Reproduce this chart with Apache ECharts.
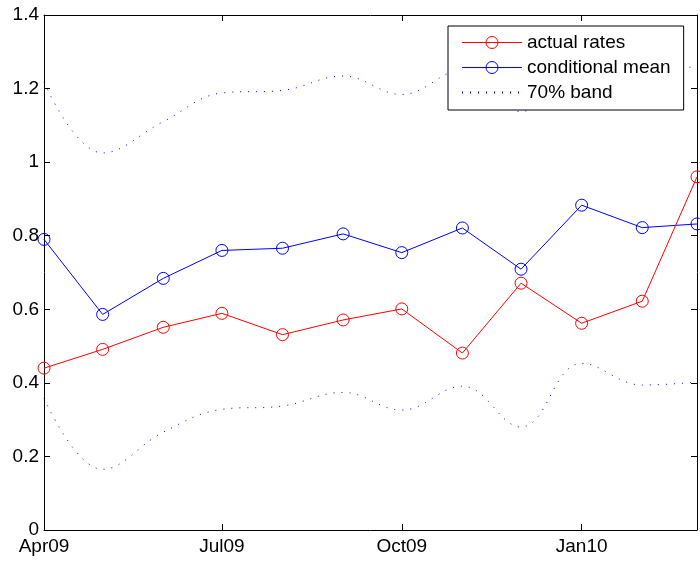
<!DOCTYPE html>
<html>
<head>
<meta charset="utf-8">
<script src="https://cdn.jsdelivr.net/npm/echarts@6/dist/echarts.min.js"></script>
<style>html,body{margin:0;padding:0;background:#fff}#c{width:700px;height:563px}</style>
</head>
<body>
<div id="c"></div>
<script>
const months = ['2009-04-01','2009-05-01','2009-06-01','2009-07-01','2009-08-01','2009-09-01','2009-10-01','2009-11-01','2009-12-01','2010-01-01','2010-02-01','2010-03-01'];
const actualRates = [0.44,0.491,0.551,0.589,0.531,0.571,0.601,0.481,0.671,0.562,0.622,0.96];
const conditionalMean = [0.79,0.586,0.684,0.76,0.766,0.805,0.754,0.821,0.709,0.883,0.822,0.832];
const bandUpper = [1.217,1.025,1.11,1.188,1.195,1.234,1.184,1.25,1.137,1.31,1.25,1.26];
const bandLower = [0.358,0.165,0.266,0.328,0.337,0.374,0.326,0.391,0.28,0.453,0.394,0.402];
const tickDates = ['2009-04-01','2009-07-01','2009-10-01','2010-01-01'];
const tickLabels = ['Apr09','Jul09','Oct09','Jan10'];

// day number (UTC) for a date string, used as the x value
function dayNum(s){ const p = s.split('-').map(Number); return Date.UTC(p[0], p[1]-1, p[2]) / 86400000; }
const xs = months.map(dayNum);
const tickX = tickDates.map(dayNum);
const pairs = arr => arr.map((v,i)=>[xs[i], v]);

const font = 'Liberation Sans, Arial, Helvetica, sans-serif';
const axisLine = {show:true, onZero:false, lineStyle:{color:'#000', width:1}};
const tickLine = {color:'#000', width:1};

const chart = echarts.init(document.getElementById('c'), null, {renderer:'canvas'});
chart.setOption({
  animation:false,
  backgroundColor:'#fff',
  grid:{left:44, right:3, top:15, bottom:33, containLabel:false},
  xAxis:[{
    type:'value', min:xs[0], max:xs[xs.length-1],
    axisLine:axisLine,
    axisTick:{show:true, inside:true, length:6, customValues:tickX, lineStyle:tickLine},
    axisLabel:{show:true, customValues:tickX, margin:7, color:'#000', fontSize:19, fontFamily:font,
      formatter:function(v){ const i = tickX.indexOf(v); return i>=0 ? tickLabels[i] : ''; },
      hideOverlap:false, showMinLabel:true, showMaxLabel:true},
    splitLine:{show:false}
  },{
    type:'value', position:'top', min:xs[0], max:xs[xs.length-1],
    axisLine:axisLine,
    axisTick:{show:true, inside:true, length:6, customValues:tickX, lineStyle:tickLine},
    axisLabel:{show:false},
    splitLine:{show:false}
  }],
  yAxis:[{
    type:'value', min:0, max:1.4, interval:0.2,
    axisLine:axisLine,
    axisTick:{show:true, inside:true, length:6, lineStyle:tickLine},
    axisLabel:{color:'#000', fontSize:19, fontFamily:font, margin:5,
      formatter:function(v){ return String(Math.round(v*10)/10); }},
    splitLine:{show:false}
  },{
    type:'value', position:'right', min:0, max:1.4, interval:0.2,
    axisLine:axisLine,
    axisTick:{show:true, inside:true, length:6, lineStyle:tickLine},
    axisLabel:{show:false},
    splitLine:{show:false}
  }],
  legend:{
    orient:'vertical', left:448, top:26,
    data:[
      {name:'actual rates', lineStyle:{color:'#ff0000', width:1}, itemStyle:{borderColor:'#ff0000', borderWidth:1}},
      {name:'conditional mean', lineStyle:{color:'#0000ff', width:1}, itemStyle:{borderColor:'#0000ff', borderWidth:1}},
      {name:'70% band', itemStyle:{opacity:0, borderWidth:0}}
    ],
    backgroundColor:'#fff', borderColor:'#000', borderWidth:1,
    padding:[7,13,8,13], itemGap:6, itemWidth:60, itemHeight:15,
    textStyle:{color:'#000', fontSize:19, fontFamily:font}
  },
  series:[
    {name:'70% band', type:'line', data:pairs(bandUpper), smooth:0.4, symbol:'none',
      lineStyle:{color:'#0000ff', width:1, type:[1,7]}, itemStyle:{color:'#0000ff'}, z:2},
    {name:'70% band', type:'line', data:pairs(bandLower), smooth:0.4, symbol:'none',
      lineStyle:{color:'#0000ff', width:1, type:[1,7]}, itemStyle:{color:'#0000ff'}, z:2},
    {name:'conditional mean', type:'line', data:pairs(conditionalMean), symbol:'circle', symbolSize:12,
      lineStyle:{color:'#0000ff', width:1}, itemStyle:{color:'rgba(255,255,255,0)', borderColor:'#0000ff', borderWidth:1}, clip:false, z:3},
    {name:'actual rates', type:'line', data:pairs(actualRates), symbol:'circle', symbolSize:12,
      lineStyle:{color:'#ff0000', width:1}, itemStyle:{color:'rgba(255,255,255,0)', borderColor:'#ff0000', borderWidth:1}, clip:false, z:4}
  ]
});
</script>
</body>
</html>
